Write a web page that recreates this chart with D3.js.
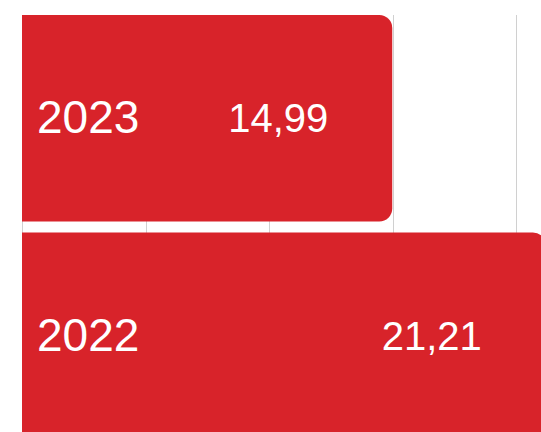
<!DOCTYPE html>
<html>
<head>
<meta charset="utf-8">
<script src="https://cdn.jsdelivr.net/npm/d3@7"></script>
<style>
  html, body { margin: 0; padding: 0; background: #fff; overflow: hidden; }
  svg { display: block; font-family: "Liberation Sans", Arial, sans-serif; }
</style>
</head>
<body>
<svg id="chart" width="541" height="432"></svg>
<script>
const categories = ["2023", "2022"];
const values = [14.99, 21.21];
const valueLabels = ["14,99", "21,21"];
const gridTicks = [0, 5, 10, 15, 20];

const W = 541, H = 432;
const svg = d3.select("#chart");

const x = d3.scaleLinear().domain([0, 20]).range([22, 516]);
const y = d3.scaleBand().domain(categories).range([15, 439]).paddingInner(0.05).paddingOuter(0);

const barColor = "#d8232a";
const r = 13;

// gridlines
svg.append("g").selectAll("line").data(gridTicks).join("line")
  .attr("x1", d => Math.round(x(d)) + 0.5)
  .attr("x2", d => Math.round(x(d)) + 0.5)
  .attr("y1", 15).attr("y2", H)
  .attr("stroke", "#d0d0d0").attr("stroke-width", 1);

function barPath(x0, x1, y0, h) {
  const rr = Math.min(r, (x1 - x0), h / 2);
  return `M${x0},${y0} H${x1 - rr} A${rr},${rr} 0 0 1 ${x1},${y0 + rr} V${y0 + h - rr} A${rr},${rr} 0 0 1 ${x1 - rr},${y0 + h} H${x0} Z`;
}

const rows = categories.map((c, i) => ({ cat: c, v: values[i], lbl: valueLabels[i] }));

svg.append("g").selectAll("path").data(rows).join("path")
  .attr("d", d => barPath(x(0), x(d.v), y(d.cat), y.bandwidth()))
  .attr("fill", barColor);

// category labels
svg.append("g").selectAll("text").data(rows).join("text")
  .attr("x", x(0) + 15)
  .attr("y", d => y(d.cat) + y.bandwidth() / 2 + 15)
  .attr("fill", "#fff")
  .attr("font-size", 46)
  .text(d => d.cat);

// value labels
svg.append("g").selectAll("text").data(rows).join("text")
  .attr("x", d => x(d.v) - 64)
  .attr("y", d => y(d.cat) + y.bandwidth() / 2 + 14)
  .attr("text-anchor", "end")
  .attr("fill", "#fff")
  .attr("font-size", 40)
  .text(d => d.lbl);
</script>
</body>
</html>
